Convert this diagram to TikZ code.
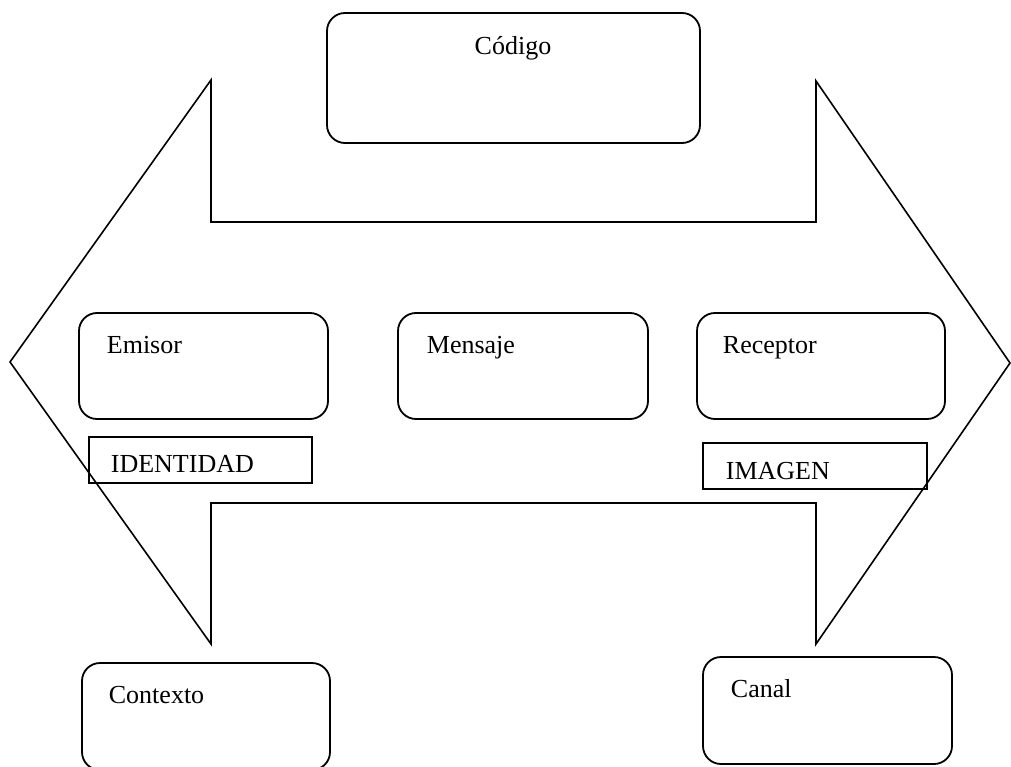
\documentclass[tikz,border=0pt]{standalone}
\usepackage{fontspec}
\setmainfont{Liberation Serif}
\begin{document}
\begin{tikzpicture}[x=1pt,y=-1pt,line width=1.8pt,
  rbox/.style={draw, rounded corners=18pt, inner sep=0pt},
  sbox/.style={draw, inner sep=0pt},
  txt/.style={anchor=base west, inner sep=0pt, font=\fontsize{26}{31}\selectfont}]
\useasboundingbox (0,0) rectangle (1011,767);
\clip (0,0) rectangle (1011,767);

% outline of the double-headed arrow
\coordinate (ltip) at (10,362);
\coordinate (ltop) at (211,80);
\coordinate (lin1) at (211,222);
\coordinate (rin1) at (816,222);
\coordinate (rtop) at (816,81);
\coordinate (rtip) at (1010,363);
\coordinate (rbot) at (816,644);
\coordinate (rin2) at (816,503);
\coordinate (lin2) at (211,503);
\coordinate (lbot) at (211,644);
\draw[line width=1.6pt, line join=miter] (ltip) -- (ltop) -- (lin1) -- (rin1) -- (rtop) -- (rtip)
  -- (rbot) -- (rin2) -- (lin2) -- (lbot) -- cycle;

% rounded boxes
\node[rbox, minimum width=373pt, minimum height=130pt] (codigo) at (513.5,78) {};
\node[rbox, minimum width=249pt, minimum height=106pt] (emisor) at (203.5,366) {};
\node[rbox, minimum width=250pt, minimum height=106pt] (mensaje) at (523,366) {};
\node[rbox, minimum width=248pt, minimum height=106pt] (receptor) at (821,366) {};
\node[rbox, minimum width=248pt, minimum height=107pt] (contexto) at (206,716.5) {};
\node[rbox, minimum width=249pt, minimum height=107pt] (canal) at (827.5,710.5) {};

% square label boxes
\node[sbox, minimum width=223pt, minimum height=46pt] (identidad) at (200.5,460) {};
\node[sbox, minimum width=224pt, minimum height=46pt] (imagen) at (815,466) {};

% texts
\node[txt, anchor=base] (tcodigo) at (513,55) {Código};
\node[txt] (temisor) at (106,353) {Emisor};
\node[txt] (tmensaje) at (426,353) {Mensaje};
\node[txt] (treceptor) at (722,353) {Receptor};
\node[txt] (tidentidad) at (110,472) {IDENTIDAD};
\node[txt] (timagen) at (725,479) {IMAGEN};
\node[txt] (tcontexto) at (108,703) {Contexto};
\node[txt] (tcanal) at (730,697) {Canal};
\end{tikzpicture}
\end{document}
